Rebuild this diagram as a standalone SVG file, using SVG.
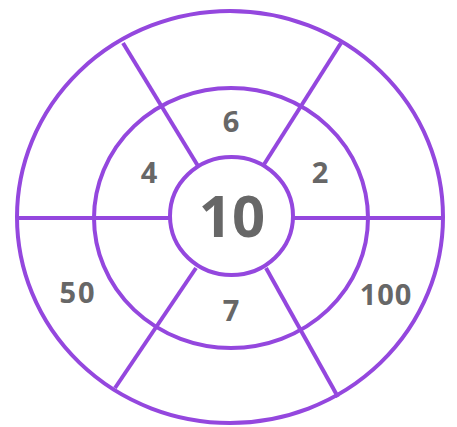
<svg xmlns="http://www.w3.org/2000/svg" width="457" height="427" viewBox="0 0 457 427">
<style>
.ring{fill:none;stroke:#9447de;stroke-width:4}
.spoke{stroke:#9447de;stroke-width:4;stroke-linecap:butt}
.lbl{font-family:"Open Sans","Liberation Sans",sans-serif;font-weight:bold;fill:#676767;text-anchor:middle;font-size:29px}
.big{font-size:58px}
</style>
<rect width="457" height="427" fill="#ffffff"/>
<g id="rings">
<ellipse id="outer" class="ring" cx="230" cy="217" rx="213" ry="206"/>
<ellipse id="middle" class="ring" cx="231" cy="218" rx="137" ry="130"/>
<ellipse id="inner" class="ring" cx="231.5" cy="216" rx="61.5" ry="59"/>
</g>
<g id="connectors">
<line class="spoke" x1="123" y1="43" x2="198" y2="166"/>
<line class="spoke" x1="341" y1="43" x2="263" y2="166"/>
<line class="spoke" x1="17" y1="218" x2="170" y2="218"/>
<line class="spoke" x1="293" y1="218" x2="443" y2="218"/>
<line class="spoke" x1="115" y1="388" x2="196" y2="268"/>
<line class="spoke" x1="338" y1="397" x2="266" y2="268"/>
</g>
<g id="labels">
<text id="n10" class="lbl big" x="232" y="237">10</text>
<text id="n6" class="lbl" x="231" y="132">6</text>
<text id="n4" class="lbl" x="149" y="183">4</text>
<text id="n2" class="lbl" x="320" y="183">2</text>
<text id="n7" class="lbl" x="231" y="321">7</text>
<text id="n50" class="lbl" x="78" y="303" letter-spacing="2">50</text>
<text id="n100" class="lbl" x="386" y="305" letter-spacing="1">100</text>
</g>
</svg>
